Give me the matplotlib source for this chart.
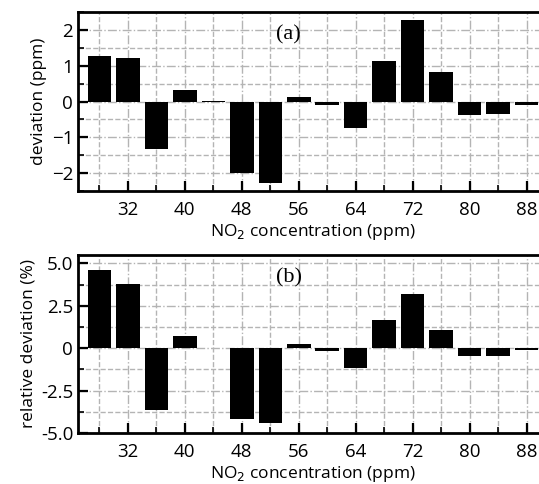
import numpy as np
import matplotlib.pyplot as plt
from matplotlib.ticker import MultipleLocator

conc = [28, 32, 36, 40, 44, 48, 52, 56, 60, 64, 68, 72, 76, 80, 84, 88]
dev_ppm = [1.28, 1.21, -1.32, 0.31, 0.02, -2.0, -2.27, 0.12, -0.1, -0.73,
           1.13, 2.28, 0.82, -0.37, -0.34, -0.09]
dev_rel = [4.59, 3.80, -3.64, 0.73, 0.0, -4.17, -4.43, 0.24, -0.18, -1.16,
           1.67, 3.21, 1.08, -0.47, -0.43, -0.1]

plt.rcParams['font.family'] = ['Open Sans', 'DejaVu Sans']
plt.rcParams['font.size'] = 12

fig = plt.figure(figsize=(5.39, 4.84), dpi=100)
W, H = 539.0, 484.0
ax1 = fig.add_axes([78/W, 1-191/H, (548-78)/W, (191-12)/H])
ax2 = fig.add_axes([78/W, 1-433/H, (548-78)/W, (433-255)/H])

def style(ax, ymaj, ymin):
    ax.set_xlim(25, 91)
    ax.xaxis.set_major_locator(MultipleLocator(8))
    ax.xaxis.set_minor_locator(MultipleLocator(4))
    ax.yaxis.set_major_locator(MultipleLocator(ymaj))
    ax.yaxis.set_minor_locator(MultipleLocator(ymin))
    ax.set_xticks([32, 40, 48, 56, 64, 72, 80, 88])
    ax.grid(which='major', color='#b4b4b4', linestyle='-.', linewidth=1.0)
    ax.grid(which='minor', color='#b4b4b4', linestyle='--', linewidth=1.0)
    ax.set_axisbelow(True)
    ax.tick_params(which='major', direction='in', length=7, width=1.6, labelsize=13.5)
    ax.tick_params(which='minor', direction='in', length=4, width=1.2)
    ax.tick_params(axis='x', pad=7)
    for s in ax.spines.values():
        s.set_linewidth(2)
    ax.set_xlabel("NO$_2$ concentration (ppm)", fontsize=12.5, labelpad=2)

ax1.bar(conc, dev_ppm, width=3.3, color='black')
ax1.set_ylim(-2.5, 2.5)
style(ax1, 1, 0.5)
ax1.set_ylabel("deviation (ppm)", fontsize=12.5, labelpad=3)
ax1.text(54.6, 1.86, "(a)", family='Liberation Serif', fontsize=16, ha='center', va='center')

ax2.bar(conc, dev_rel, width=3.3, color='black')
ax2.set_ylim(-5, 5.5)
style(ax2, 2.5, 1.25)
ax2.set_yticks([-5, -2.5, 0, 2.5, 5])
ax2.set_yticklabels(["-5.0", "-2.5", "0", "2.5", "5.0"])
ax2.set_ylabel("relative deviation (%)", fontsize=12.5, labelpad=3)
ax2.text(54.6, 4.16, "(b)", family='Liberation Serif', fontsize=16, ha='center', va='center')

fig.savefig("out.png", dpi=100)
